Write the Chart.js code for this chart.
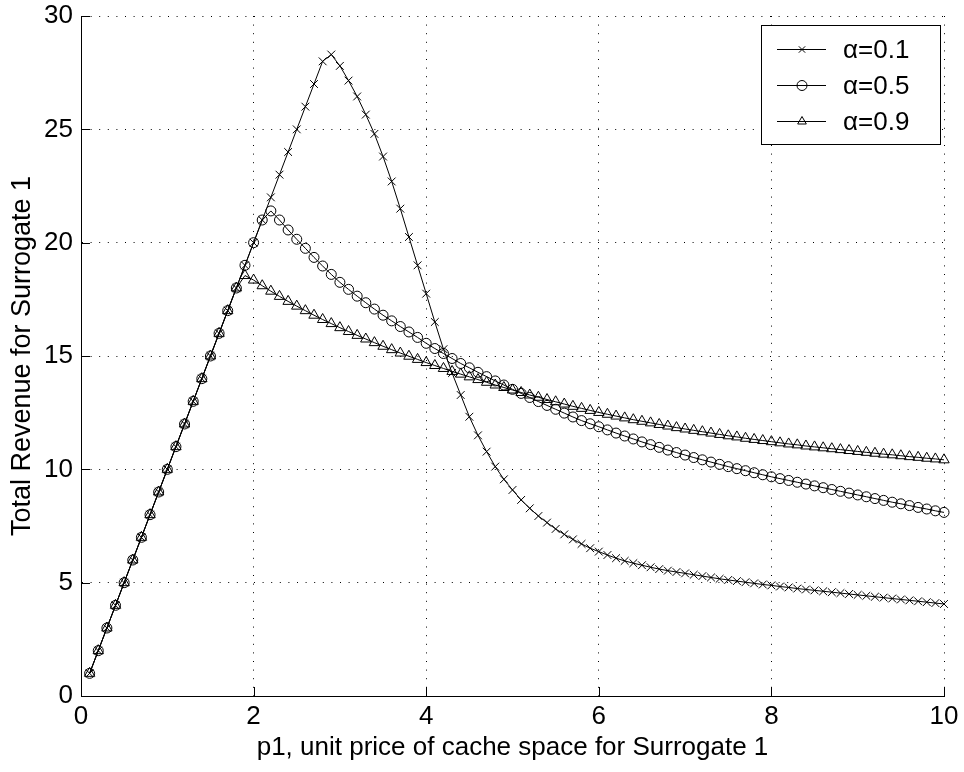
<!DOCTYPE html>
<html lang="en">
<head>
<meta charset="utf-8">
<title>Total Revenue for Surrogate 1</title>
<style>
  html, body { margin: 0; padding: 0; background: #fff; }
  #wrap { width: 964px; height: 772px; }
</style>
</head>
<body>
<div id="wrap"><canvas id="revChart" width="964" height="772"></canvas></div>

<script src="https://cdn.jsdelivr.net/npm/chart.js@4.4.1/dist/chart.umd.min.js"></script>
<script>
// p1, unit price of cache space (x)
const priceP1 = [
  0.1, 0.2, 0.3, 0.4, 0.5, 0.6, 0.7, 0.8, 0.9, 1.0,
  1.1, 1.2, 1.3, 1.4, 1.5, 1.6, 1.7, 1.8, 1.9, 2.0,
  2.1, 2.2, 2.3, 2.4, 2.5, 2.6, 2.7, 2.8, 2.9, 3.0,
  3.1, 3.2, 3.3, 3.4, 3.5, 3.6, 3.7, 3.8, 3.9, 4.0,
  4.1, 4.2, 4.3, 4.4, 4.5, 4.6, 4.7, 4.8, 4.9, 5.0,
  5.1, 5.2, 5.3, 5.4, 5.5, 5.6, 5.7, 5.8, 5.9, 6.0,
  6.1, 6.2, 6.3, 6.4, 6.5, 6.6, 6.7, 6.8, 6.9, 7.0,
  7.1, 7.2, 7.3, 7.4, 7.5, 7.6, 7.7, 7.8, 7.9, 8.0,
  8.1, 8.2, 8.3, 8.4, 8.5, 8.6, 8.7, 8.8, 8.9, 9.0,
  9.1, 9.2, 9.3, 9.4, 9.5, 9.6, 9.7, 9.8, 9.9, 10.0
];

// total revenue, alpha = 0.1
const alpha01 = [
  1, 2, 3, 4, 5, 6, 7, 8, 9, 10,
  11, 12, 13, 14, 15, 16, 17, 18, 19, 20,
  21, 22, 23, 24, 25, 26, 27, 28, 28.3, 27.8,
  27.15, 26.45, 25.65, 24.8, 23.8, 22.7, 21.5, 20.25, 19.0, 17.75,
  16.5, 15.3, 14.25, 13.28, 12.32, 11.5, 10.78, 10.12, 9.56, 9.09,
  8.65, 8.28, 7.94, 7.65, 7.37, 7.13, 6.91, 6.71, 6.52, 6.37,
  6.22, 6.08, 5.96, 5.86, 5.77, 5.68, 5.6, 5.53, 5.47, 5.41,
  5.35, 5.29, 5.23, 5.17, 5.12, 5.07, 5.02, 4.97, 4.92, 4.88,
  4.83, 4.79, 4.74, 4.7, 4.66, 4.62, 4.58, 4.54, 4.5, 4.46,
  4.42, 4.38, 4.34, 4.3, 4.26, 4.22, 4.18, 4.14, 4.1, 4.06
];

// total revenue, alpha = 0.5
const alpha05 = [
  1, 2, 3, 4, 5, 6, 7, 8, 9, 10,
  11, 12, 13, 14, 15, 16, 17, 18, 19, 20,
  21.0, 21.4, 21.0, 20.56, 20.15, 19.75, 19.35, 18.97, 18.6, 18.25,
  17.94, 17.64, 17.35, 17.07, 16.8, 16.55, 16.3, 16.06, 15.82, 15.56,
  15.33, 15.11, 14.89, 14.67, 14.48, 14.28, 14.09, 13.9, 13.72, 13.53,
  13.35, 13.17, 12.99, 12.82, 12.65, 12.48, 12.31, 12.15, 12.01, 11.88,
  11.74, 11.6, 11.47, 11.34, 11.21, 11.09, 10.97, 10.85, 10.74, 10.63,
  10.52, 10.42, 10.32, 10.22, 10.12, 10.03, 9.94, 9.85, 9.76, 9.67,
  9.59, 9.51, 9.43, 9.35, 9.27, 9.19, 9.11, 9.03, 8.95, 8.87,
  8.79, 8.71, 8.63, 8.55, 8.48, 8.4, 8.32, 8.25, 8.17, 8.1
];

// total revenue, alpha = 0.9
const alpha09 = [
  1, 2, 3, 4, 5, 6, 7, 8, 9, 10,
  11, 12, 13, 14, 15, 16, 17, 18, 18.55, 18.35,
  18.1, 17.86, 17.63, 17.41, 17.2, 17.0, 16.8, 16.61, 16.43, 16.25,
  16.08, 15.91, 15.75, 15.59, 15.43, 15.28, 15.13, 14.99, 14.85, 14.71,
  14.58, 14.45, 14.32, 14.2, 14.08, 13.96, 13.84, 13.72, 13.61, 13.5,
  13.39, 13.28, 13.18, 13.08, 12.98, 12.88, 12.78, 12.69, 12.6, 12.51,
  12.43, 12.35, 12.27, 12.19, 12.12, 12.05, 11.98, 11.91, 11.84, 11.78,
  11.72, 11.66, 11.6, 11.54, 11.48, 11.43, 11.37, 11.32, 11.27, 11.22,
  11.17, 11.12, 11.08, 11.03, 10.99, 10.95, 10.91, 10.87, 10.83, 10.79,
  10.75, 10.71, 10.67, 10.64, 10.6, 10.56, 10.53, 10.49, 10.46, 10.42
];

const seriesLabels = ['α=0.1', 'α=0.5', 'α=0.9'];
const xTicks = [0, 2, 4, 6, 8, 10];
const yTicks = [0, 5, 10, 15, 20, 25, 30];

const FONT = "'Liberation Sans', Arial, Helvetica, sans-serif";

function pairs(ys) {
  return priceP1.map((p, i) => ({ x: p, y: ys[i] }));
}

// draw one marker by hand (used for the legend)
function marker(ctx, style, x, y, r) {
  ctx.beginPath();
  if (style === 'crossRot') {
    const d = r * Math.SQRT1_2;
    ctx.moveTo(x - d, y - d); ctx.lineTo(x + d, y + d);
    ctx.moveTo(x - d, y + d); ctx.lineTo(x + d, y - d);
  } else if (style === 'circle') {
    ctx.arc(x, y, r, 0, Math.PI * 2);
  } else {
    ctx.moveTo(x, y - r);
    ctx.lineTo(x + r * 0.866, y + r / 2);
    ctx.lineTo(x - r * 0.866, y + r / 2);
    ctx.closePath();
  }
  ctx.stroke();
}

// legend box in the top right corner + inward ticks on the bottom/left axes
const matlabBits = {
  id: 'matlabBits',
  afterDraw(chart) {
    const ctx = chart.ctx;
    const xs = chart.scales.x, ys = chart.scales.y;
    const area = chart.chartArea;
    ctx.save();
    ctx.strokeStyle = '#000';
    ctx.lineWidth = 1;

    // ticks pointing into the plot
    ctx.beginPath();
    xTicks.forEach(v => {
      const px = Math.round(xs.getPixelForValue(v)) + 0.5;
      ctx.moveTo(px, area.bottom);
      ctx.lineTo(px, area.bottom - 9);
    });
    yTicks.forEach(v => {
      const py = Math.round(ys.getPixelForValue(v)) + 0.5;
      ctx.moveTo(area.left, py);
      ctx.lineTo(area.left + 9, py);
    });
    ctx.stroke();

    // legend
    const L = 761, T = 25, W = 179, H = 119;
    ctx.fillStyle = '#fff';
    ctx.fillRect(L, T, W, H);
    ctx.strokeRect(L + 0.5, T + 0.5, W, H);
    ctx.font = '26px ' + FONT;
    ctx.textBaseline = 'middle';
    ctx.fillStyle = '#000';
    chart.data.datasets.forEach((ds, i) => {
      const y = 49.5 + i * 36;
      ctx.beginPath();
      ctx.moveTo(777, y);
      ctx.lineTo(826, y);
      ctx.stroke();
      marker(ctx, ds.pointStyle, 802, y, i === 0 ? 4.5 : 5);
      ctx.fillText(ds.label, 843, y + 1);
    });
    ctx.restore();
  }
};

const common = {
  borderColor: '#000',
  borderWidth: 1,
  pointBorderColor: '#000',
  pointBackgroundColor: 'rgba(0,0,0,0)',
  pointBorderWidth: 1,
  tension: 0,
  fill: false,
  clip: false
};

const ctx = document.getElementById('revChart').getContext('2d');
const chart = new Chart(ctx, {
  type: 'line',
  data: {
    datasets: [
      Object.assign({ label: seriesLabels[0], data: pairs(alpha01), pointStyle: 'crossRot', pointRadius: 5.5 }, common),
      Object.assign({ label: seriesLabels[1], data: pairs(alpha05), pointStyle: 'circle', pointRadius: 5 }, common),
      Object.assign({ label: seriesLabels[2], data: pairs(alpha09), pointStyle: 'triangle', pointRadius: 6 }, common)
    ]
  },
  options: {
    responsive: false,
    animation: false,
    events: [],
    layout: { padding: { top: 16, right: 20, left: 0, bottom: 0 } },
    plugins: {
      legend: { display: false },
      tooltip: { enabled: false }
    },
    scales: {
      x: {
        type: 'linear',
        min: 0,
        max: 10,
        afterBuildTicks: (s) => { s.ticks = xTicks.map(v => ({ value: v })); },
        afterFit: (s) => { s.height = 76; s.paddingLeft = 0; s.paddingRight = 0; },
        grid: {
          color: '#000',
          lineWidth: 1,
          drawTicks: false
        },
        // in v4 border.dash is what dashes the grid lines; the axis line itself stays solid
        border: { display: true, color: '#000', width: 1, dash: [1, 7.6] },
        ticks: {
          color: '#000',
          padding: 5,
          maxRotation: 0,
          font: { family: FONT, size: 26 }
        },
        title: {
          display: true,
          text: 'p1, unit price of cache space for Surrogate 1',
          color: '#000',
          font: { family: FONT, size: 26 },
          padding: { top: 0, bottom: 9 }
        }
      },
      y: {
        min: 0,
        max: 30,
        afterBuildTicks: (s) => { s.ticks = yTicks.map(v => ({ value: v })); },
        afterFit: (s) => { s.width = 81; s.paddingTop = 0; s.paddingBottom = 0; },
        grid: {
          color: '#000',
          lineWidth: 1,
          drawTicks: false
        },
        border: { display: true, color: '#000', width: 1, dash: [1, 7.6] },
        ticks: {
          color: '#000',
          padding: 8,
          font: { family: FONT, size: 26 }
        },
        title: {
          display: true,
          text: 'Total Revenue for Surrogate 1',
          color: '#000',
          font: { family: FONT, size: 27 },
          padding: { top: 6, bottom: 0 }
        }
      }
    }
  },
  plugins: [matlabBits]
});
</script>
</body>
</html>
